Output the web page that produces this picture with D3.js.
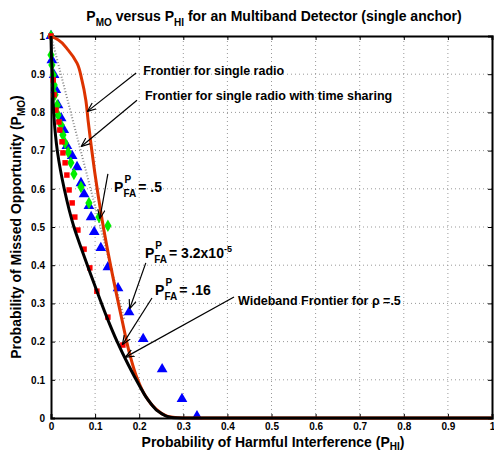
<!DOCTYPE html>
<html lang="en">
<head>
    <meta charset="utf-8">
    <title>PMO versus PHI</title>
    <script type="text/javascript" src="https://cdn.jsdelivr.net/npm/d3@7"></script>
    <style>
        body { margin: 0; background: #fff; }
        text { font-family: "Liberation Sans", Arial, sans-serif; font-weight: bold; }
    </style>
</head>
<body>
<script type="text/javascript">
    // single radio frontier (red)
    var singleX = [0, 0.016, 0.039, 0.059, 0.070, 0.079, 0.084, 0.116, 0.161, 0.179, 0.195, 0.213, 0.236, 0.263, 0.3, 1];
    var singleY = [1, 0.99, 0.963, 0.929, 0.885, 0.832, 0.78, 0.518, 0.257, 0.165, 0.105, 0.06, 0.026, 0.005, 0, 0];
    // time sharing frontier (dotted)
    var shareX = [0, 0.166];
    var shareY = [1, 0.26];
    // wideband frontier (black)
    var wideX = [0, 0.001, 0.003, 0.006, 0.015, 0.03, 0.052, 0.07, 0.088, 0.108, 0.129, 0.15, 0.175, 0.2, 0.225, 0.25, 0.27, 0.3, 1];
    var wideY = [1, 0.95, 0.9, 0.8, 0.694, 0.6, 0.5, 0.44, 0.382, 0.32, 0.257, 0.2, 0.14, 0.086, 0.04, 0.012, 0.002, 0, 0];
    // markers
    var blueX = [0, 0.002, 0.007, 0.011, 0.016, 0.023, 0.029, 0.036, 0.048, 0.059, 0.068, 0.075, 0.086, 0.091, 0.098, 0.113, 0.129, 0.152, 0.177, 0.209, 0.252, 0.297, 0.331];
    var blueY = [1, 0.937, 0.898, 0.859, 0.819, 0.785, 0.754, 0.712, 0.686, 0.657, 0.615, 0.586, 0.555, 0.526, 0.487, 0.445, 0.395, 0.34, 0.277, 0.207, 0.128, 0.05, 0.005];
    var greenX = [0, 0, 0.002, 0.005, 0.007, 0.009, 0.014, 0.016, 0.023, 0.027, 0.032, 0.039, 0.045, 0.052, 0.068, 0.086, 0.109, 0.129];
    var greenY = [1, 0.95, 0.924, 0.898, 0.872, 0.846, 0.819, 0.793, 0.767, 0.741, 0.72, 0.696, 0.668, 0.639, 0.605, 0.563, 0.526, 0.503];
    var redX = [0, 0.005, 0.007, 0.011, 0.018, 0.02, 0.025, 0.027, 0.032, 0.036, 0.041, 0.048, 0.054, 0.061, 0.075, 0.088, 0.104, 0.129, 0.163];
    var redY = [1, 0.885, 0.846, 0.806, 0.775, 0.754, 0.723, 0.694, 0.668, 0.636, 0.597, 0.563, 0.526, 0.492, 0.442, 0.393, 0.332, 0.264, 0.191];

    var ticks = [0, 0.1, 0.2, 0.3, 0.4, 0.5, 0.6, 0.7, 0.8, 0.9, 1];
    var tickLabels = ["0", "0.1", "0.2", "0.3", "0.4", "0.5", "0.6", "0.7", "0.8", "0.9", "1"];

    var w = 494;
    var h = 451;
    var margin = {top: 36, right: 2, bottom: 33, left: 51};

    var xScale = d3.scaleLinear().domain([0, 1]).range([margin.left, w - margin.right]);
    var yScale = d3.scaleLinear().domain([0, 1]).range([h - margin.bottom, margin.top]);

    var svg = d3.select("body")
        .append("svg")
        .attr("width", w)
        .attr("height", h);

    // grid
    svg.selectAll("line.gx")
        .data(ticks.slice(1, -1))
        .enter()
        .append("line")
        .attr("x1", function(d) { return xScale(d); })
        .attr("x2", function(d) { return xScale(d); })
        .attr("y1", yScale(0))
        .attr("y2", yScale(1))
        .attr("stroke", "#999")
        .attr("stroke-dasharray", "1,3");
    svg.selectAll("line.gy")
        .data(ticks.slice(1, -1))
        .enter()
        .append("line")
        .attr("y1", function(d) { return yScale(d); })
        .attr("y2", function(d) { return yScale(d); })
        .attr("x1", xScale(0))
        .attr("x2", xScale(1))
        .attr("stroke", "#999")
        .attr("stroke-dasharray", "1,3");

    // axes (ticks inside)
    var fmt = function(d, i) { return tickLabels[i]; };
    svg.append("g")
        .attr("transform", "translate(0," + yScale(0) + ")")
        .call(d3.axisBottom(xScale).tickValues(ticks).tickSize(-4).tickPadding(5).tickFormat(fmt));
    svg.append("g")
        .attr("transform", "translate(" + xScale(0) + ",0)")
        .call(d3.axisLeft(yScale).tickValues(ticks).tickSize(-4).tickPadding(6).tickFormat(fmt));
    svg.append("g")
        .attr("transform", "translate(0," + yScale(1) + ")")
        .call(d3.axisTop(xScale).tickValues(ticks).tickSize(-4).tickFormat(""));
    svg.append("g")
        .attr("transform", "translate(" + xScale(1) + ",0)")
        .call(d3.axisRight(yScale).tickValues(ticks).tickSize(-4).tickFormat(""));
    svg.selectAll(".domain").attr("stroke", "#000").attr("stroke-width", 2);
    svg.selectAll(".tick line").attr("stroke", "#000");
    svg.selectAll(".tick text")
        .attr("font-size", "10px")
        .attr("font-weight", "bold")
        .attr("font-family", "Liberation Sans, Arial, sans-serif")
        .attr("fill", "#000");

    var line = d3.line()
        .x(function(d) { return xScale(d[0]); })
        .y(function(d) { return yScale(d[1]); });
    var curve = d3.line()
        .x(function(d) { return xScale(d[0]); })
        .y(function(d) { return yScale(d[1]); })
        .curve(d3.curveMonotoneY);
    var zip = function(a, b) { return a.map(function(v, i) { return [v, b[i]]; }); };

    // time sharing (dotted)
    svg.append("path")
        .attr("d", line(zip(shareX, shareY)))
        .attr("fill", "none")
        .attr("stroke", "#888")
        .attr("stroke-width", 2)
        .attr("stroke-dasharray", "1,2");

    // markers
    var tri = d3.symbol().type(d3.symbolTriangle).size(50);
    var dia = d3.symbol().type(d3.symbolDiamond).size(45);
    var sq = d3.symbol().type(d3.symbolSquare).size(30);

    svg.selectAll("path.blue")
        .data(zip(blueX, blueY))
        .enter()
        .append("path")
        .attr("d", tri)
        .attr("transform", function(d) { return "translate(" + xScale(d[0]) + "," + yScale(d[1]) + ")"; })
        .attr("fill", "#0000ff");
    svg.selectAll("path.green")
        .data(zip(greenX, greenY))
        .enter()
        .append("path")
        .attr("d", dia)
        .attr("transform", function(d) { return "translate(" + xScale(d[0]) + "," + yScale(d[1]) + ")"; })
        .attr("fill", "#00ee00");
    svg.selectAll("path.red")
        .data(zip(redX, redY))
        .enter()
        .append("path")
        .attr("d", sq)
        .attr("transform", function(d) { return "translate(" + xScale(d[0]) + "," + yScale(d[1]) + ")"; })
        .attr("fill", "#ff0000");

    // frontiers
    svg.append("path")
        .attr("d", curve(zip(singleX, singleY)))
        .attr("fill", "none")
        .attr("stroke", "#dd3300")
        .attr("stroke-width", 3);
    svg.append("path")
        .attr("d", curve(zip(wideX, wideY)))
        .attr("fill", "none")
        .attr("stroke", "#000")
        .attr("stroke-width", 3);

    // arrows
    svg.append("defs").append("marker")
        .attr("id", "head")
        .attr("viewBox", "0 0 10 10")
        .attr("refX", 9).attr("refY", 5)
        .attr("markerWidth", 9).attr("markerHeight", 9)
        .attr("markerUnits", "userSpaceOnUse")
        .attr("orient", "auto")
        .append("path")
        .attr("d", "M0,1 L10,5 L0,9")
        .attr("fill", "none")
        .attr("stroke", "#000")
        .attr("stroke-width", 1.3);

    var arrows = [
        [0.193, 0.903, 0.084, 0.804],
        [0.195, 0.832, 0.070, 0.712],
        [0.129, 0.639, 0.111, 0.524],
        [0.215, 0.406, 0.179, 0.288],
        [0.229, 0.314, 0.163, 0.194],
        [0.415, 0.317, 0.170, 0.160]
    ];
    svg.selectAll("line.arrow")
        .data(arrows)
        .enter()
        .append("line")
        .attr("x1", function(d) { return xScale(d[0]); })
        .attr("y1", function(d) { return yScale(d[1]); })
        .attr("x2", function(d) { return xScale(d[2]); })
        .attr("y2", function(d) { return yScale(d[3]); })
        .attr("stroke", "#000")
        .attr("stroke-width", 1.2)
        .attr("marker-end", "url(#head)");

    // plain labels
    svg.append("text").attr("x", xScale(0.209)).attr("y", yScale(0.898))
        .attr("font-size", "12.5px").text("Frontier for single radio");
    svg.append("text").attr("x", xScale(0.213)).attr("y", yScale(0.832))
        .attr("font-size", "12.5px").text("Frontier for single radio with time sharing");
    svg.append("text").attr("x", xScale(0.424)).attr("y", yScale(0.296))
        .attr("font-size", "12.5px").text("Wideband Frontier for \u03c1 =.5");

    // P^P_FA labels
    function pfa(x, y, rest, restSup) {
        var g = svg.append("g").attr("transform", "translate(" + xScale(x) + "," + yScale(y) + ")");
        var p = g.append("text").attr("font-size", "14px").text("P");
        var pw = p.node().getComputedTextLength();
        g.append("text").attr("x", pw + 1).attr("y", -9).attr("font-size", "10px").text("P");
        var sub = g.append("text").attr("x", pw).attr("y", 5).attr("font-size", "10px").text("FA");
        var sw = sub.node().getComputedTextLength();
        var t = g.append("text").attr("x", pw + sw + 2).attr("font-size", "14px").text(rest);
        if (restSup) {
            t.append("tspan").attr("dy", -6).attr("font-size", "9px").text(restSup);
        }
    }
    pfa(0.143, 0.592, " = .5");
    pfa(0.213, 0.419, " = 3.2x10", "-5");
    pfa(0.236, 0.322, " = .16");

    // title
    var title = svg.append("text")
        .attr("x", 274).attr("y", 21)
        .attr("text-anchor", "middle")
        .attr("font-size", "14px");
    title.append("tspan").text("P");
    title.append("tspan").attr("dy", 5).attr("font-size", "10px").text("MO");
    title.append("tspan").attr("dy", -5).text(" versus P");
    title.append("tspan").attr("dy", 5).attr("font-size", "10px").text("HI");
    title.append("tspan").attr("dy", -5).text(" for an Multiband Detector (single anchor)");

    // axis labels
    var xl = svg.append("text")
        .attr("x", 273).attr("y", 447)
        .attr("text-anchor", "middle")
        .attr("font-size", "14px");
    xl.append("tspan").text("Probability of Harmful Interference (P");
    xl.append("tspan").attr("dy", 3).attr("font-size", "10px").text("HI");
    xl.append("tspan").attr("dy", -3).text(")");

    var yl = svg.append("text")
        .attr("transform", "translate(21," + yScale(0.5) + ") rotate(-90)")
        .attr("text-anchor", "middle")
        .attr("font-size", "14px");
    yl.append("tspan").text("Probability of Missed Opportunity (P");
    yl.append("tspan").attr("dy", 4).attr("font-size", "10px").text("MO");
    yl.append("tspan").attr("dy", -4).text(")");
</script>
</body>
</html>
